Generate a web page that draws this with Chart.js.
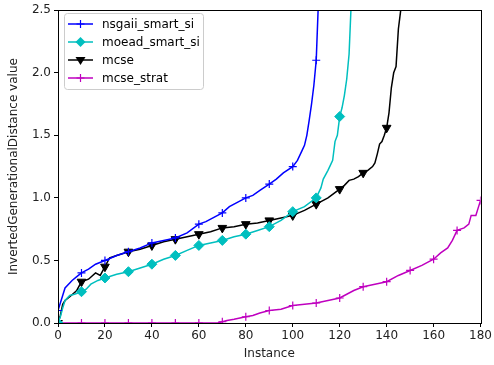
<!DOCTYPE html>
<html>
<head>
<meta charset="utf-8">
<script src="https://cdn.jsdelivr.net/npm/chart.js@4"></script>
<style>
  html, body { margin: 0; padding: 0; background: #fff; }
  #igdChart { display: block; }
</style>
</head>
<body>
<canvas id="igdChart" width="494" height="365"></canvas>
<script>
var seriesNames = ['nsgaii_smart_si', 'moead_smart_si', 'mcse', 'mcse_strat'];

var nsgaiiX = [0, 1, 2, 3, 5, 6, 8, 10, 13, 16, 20, 25, 30, 35, 40, 45, 50, 55, 60, 63, 66, 70, 73, 76, 80, 83, 86, 90, 93, 96, 100, 102, 104, 105, 106, 107, 108, 109, 110, 111];
var nsgaiiY = [0.10, 0.16, 0.22, 0.28, 0.32, 0.34, 0.37, 0.40, 0.43, 0.47, 0.50, 0.54, 0.57, 0.60, 0.64, 0.66, 0.68, 0.72, 0.79, 0.81, 0.84, 0.88, 0.93, 0.96, 1.00, 1.02, 1.06, 1.11, 1.15, 1.20, 1.25, 1.30, 1.38, 1.42, 1.50, 1.62, 1.75, 1.90, 2.10, 2.60];

var moeadX = [0, 1, 2, 3, 5, 7, 10, 12, 14, 17, 20, 25, 30, 35, 40, 45, 50, 55, 60, 65, 70, 75, 80, 85, 90, 95, 100, 105, 110, 112, 113, 115, 116, 117, 118, 119, 120, 121, 122, 123, 124, 125];
var moeadY = [0.00, 0.05, 0.12, 0.18, 0.22, 0.23, 0.25, 0.27, 0.31, 0.34, 0.36, 0.39, 0.41, 0.44, 0.47, 0.51, 0.54, 0.58, 0.62, 0.64, 0.66, 0.69, 0.71, 0.74, 0.77, 0.82, 0.89, 0.93, 1.00, 1.08, 1.15, 1.22, 1.26, 1.30, 1.45, 1.50, 1.65, 1.72, 1.82, 1.95, 2.15, 2.60];

var mcseX = [0, 1, 2, 3, 5, 8, 10, 13, 16, 18, 20, 22, 25, 30, 35, 40, 45, 50, 55, 60, 65, 70, 75, 80, 85, 90, 95, 100, 105, 110, 115, 120, 122, 124, 126, 128, 130, 132, 134, 135, 136, 137, 138, 139, 140, 141, 142, 143, 144, 145, 146, 147];
var mcseY = [0.00, 0.06, 0.15, 0.18, 0.21, 0.26, 0.33, 0.35, 0.40, 0.38, 0.45, 0.52, 0.54, 0.57, 0.59, 0.62, 0.65, 0.67, 0.69, 0.71, 0.73, 0.76, 0.77, 0.79, 0.80, 0.82, 0.84, 0.86, 0.90, 0.95, 1.00, 1.07, 1.10, 1.14, 1.15, 1.17, 1.20, 1.22, 1.25, 1.28, 1.35, 1.43, 1.45, 1.50, 1.56, 1.68, 1.88, 2.00, 2.05, 2.35, 2.50, 2.60];

var stratX = [0, 10, 20, 30, 40, 50, 60, 68, 70, 72, 75, 80, 83, 86, 90, 95, 100, 105, 110, 115, 120, 123, 126, 130, 135, 140, 145, 150, 155, 160, 163, 166, 168, 170, 173, 175, 176, 178, 179, 180];
var stratY = [0, 0, 0, 0, 0, 0, 0, 0, 0.01, 0.02, 0.03, 0.05, 0.06, 0.08, 0.10, 0.11, 0.14, 0.15, 0.16, 0.18, 0.20, 0.23, 0.26, 0.29, 0.31, 0.33, 0.38, 0.42, 0.46, 0.51, 0.56, 0.60, 0.66, 0.74, 0.76, 0.79, 0.86, 0.86, 0.92, 0.98];

var xTicks = [0, 20, 40, 60, 80, 100, 120, 140, 160, 180];
var yTicks = [0.0, 0.5, 1.0, 1.5, 2.0, 2.5];

function pts(xs, ys) {
  return xs.map(function (x, i) { return { x: x, y: ys[i] }; });
}

// marker only every 10 instances, like markevery
function every10(r) {
  return function (ctx) {
    return ctx.raw && ctx.raw.x % 10 === 0 ? r : 0;
  };
}

var styles = [
  { color: '#0000ff', point: 'cross', radius: 4, rot: 0, fill: false },
  { color: '#00bfbf', point: 'rectRot', radius: 5, rot: 0, fill: true },
  { color: '#000000', point: 'triangle', radius: 5, rot: 180, fill: true },
  { color: '#bf00bf', point: 'cross', radius: 4, rot: 0, fill: false }
];

var allData = [pts(nsgaiiX, nsgaiiY), pts(moeadX, moeadY), pts(mcseX, mcseY), pts(stratX, stratY)];

var datasets = allData.map(function (d, i) {
  var s = styles[i];
  return {
    label: seriesNames[i],
    data: d,
    borderColor: s.color,
    backgroundColor: s.color,
    borderWidth: 1.5,
    pointStyle: s.point,
    pointRotation: s.rot,
    pointRadius: every10(s.radius),
    pointBorderWidth: s.fill ? 1 : 1.2,
    pointHoverRadius: 0,
    tension: 0
  };
});

var fontFam = '"DejaVu Sans", sans-serif';

var frame = {
  id: 'frame',
  afterDraw: function (chart) {
    var a = chart.chartArea, c = chart.ctx;
    c.save();
    c.strokeStyle = '#000';
    c.lineWidth = 1;
    c.strokeRect(Math.round(a.left) + 0.5, Math.round(a.top) + 0.5, Math.round(a.right - a.left), Math.round(a.bottom - a.top));
    c.restore();
  }
};

function marker(c, s, x, y) {
  var r = s.radius;
  c.save();
  c.strokeStyle = s.color;
  c.fillStyle = s.color;
  c.lineWidth = 1.2;
  c.beginPath();
  if (s.point === 'cross') {
    c.moveTo(x - r, y); c.lineTo(x + r, y);
    c.moveTo(x, y - r); c.lineTo(x, y + r);
    c.stroke();
  } else if (s.point === 'rectRot') {
    c.moveTo(x, y - r); c.lineTo(x + r, y); c.lineTo(x, y + r); c.lineTo(x - r, y);
    c.closePath(); c.fill();
  } else {
    c.moveTo(x - r, y - r * 0.6); c.lineTo(x + r, y - r * 0.6); c.lineTo(x, y + r);
    c.closePath(); c.fill();
  }
  c.restore();
}

var legendBox = {
  id: 'legendBox',
  afterDraw: function (chart) {
    var c = chart.ctx;
    var bx = 64.5, by = 13.5, bw = 139, bh = 76;
    c.save();
    c.fillStyle = 'rgba(255,255,255,0.8)';
    c.strokeStyle = '#cccccc';
    c.lineWidth = 1;
    c.beginPath();
    c.roundRect(bx, by, bw, bh, 3);
    c.fill();
    c.stroke();
    c.font = '12px ' + fontFam;
    c.textBaseline = 'middle';
    c.fillStyle = '#000';
    seriesNames.forEach(function (name, i) {
      var y = 24 + i * 18;
      var s = styles[i];
      c.strokeStyle = s.color;
      c.lineWidth = 1.5;
      c.beginPath();
      c.moveTo(68, y); c.lineTo(93, y);
      c.stroke();
      marker(c, s, 80.5, y);
      c.fillStyle = '#000';
      c.fillText(name, 102, y + 1);
    });
    c.restore();
  }
};

var ctx = document.getElementById('igdChart').getContext('2d');
var igdChart = new Chart(ctx, {
  type: 'line',
  data: { datasets: datasets },
  options: {
    responsive: false,
    animation: false,
    events: [],
    layout: { padding: { left: 0, top: 8, right: 12, bottom: 0 } },
    plugins: {
      legend: { display: false },
      tooltip: { enabled: false }
    },
    scales: {
      x: {
        type: 'linear',
        min: 0,
        max: 180,
        afterFit: function (scale) { scale.height = 42; },
        afterBuildTicks: function (scale) {
          scale.ticks = xTicks.map(function (v) { return { value: v }; });
        },
        grid: { drawOnChartArea: false, drawTicks: true, tickLength: 4, color: '#000' },
        border: { display: true, color: '#000' },
        ticks: { color: '#222', font: { family: fontFam, size: 12 }, padding: 2, maxRotation: 0 },
        title: { display: true, text: 'Instance', color: '#222', font: { family: fontFam, size: 12 }, padding: { top: 0, bottom: 4 } }
      },
      y: {
        type: 'linear',
        min: 0,
        max: 2.5,
        afterFit: function (scale) { scale.width = 58; },
        afterBuildTicks: function (scale) {
          scale.ticks = yTicks.map(function (v) { return { value: v }; });
        },
        grid: { drawOnChartArea: false, drawTicks: true, tickLength: 4, color: '#000' },
        border: { display: true, color: '#000' },
        ticks: {
          color: '#222',
          font: { family: fontFam, size: 12 },
          padding: 3,
          callback: function (v) { return Number(v).toFixed(1); }
        },
        title: { display: true, text: 'InvertedGenerationalDistance value', color: '#222', font: { family: fontFam, size: 12 }, padding: { top: 7, bottom: 0 } }
      }
    }
  },
  plugins: [frame, legendBox]
});
</script>
</body>
</html>
